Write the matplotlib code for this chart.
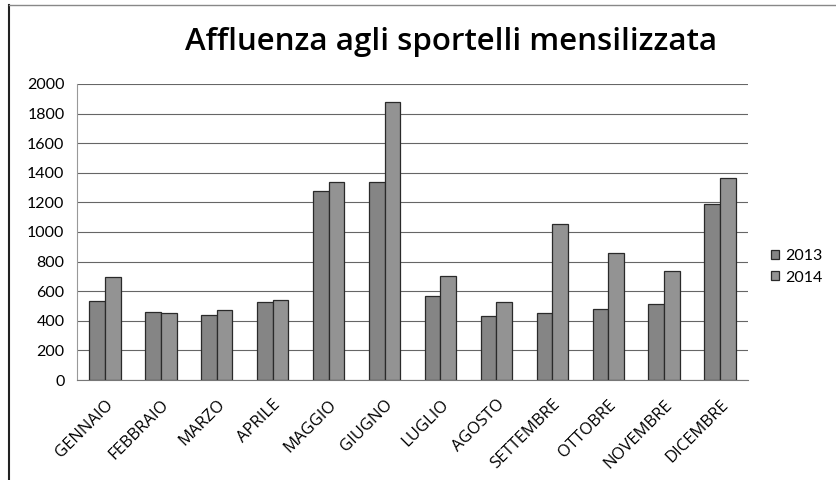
import numpy as np
import matplotlib
matplotlib.use("Agg")
import matplotlib.pyplot as plt
from matplotlib.lines import Line2D

months = ["GENNAIO", "FEBBRAIO", "MARZO", "APRILE", "MAGGIO", "GIUGNO",
          "LUGLIO", "AGOSTO", "SETTEMBRE", "OTTOBRE", "NOVEMBRE", "DICEMBRE"]
v2013 = [536, 462, 437, 525, 1277, 1338, 570, 430, 455, 480, 516, 1189]
v2014 = [698, 450, 475, 540, 1338, 1876, 700, 525, 1052, 856, 736, 1367]
series_labels = ["2013", "2014"]

plt.rcParams["font.family"] = ["Lato", "DejaVu Sans"]

fig = plt.figure(figsize=(8.37, 4.80), dpi=100)
W, H = 837, 480
ax = fig.add_axes([77 / W, 1 - 380 / H, (748 - 77) / W, (380 - 84) / H])

x = np.arange(len(months))
w = 0.28
ax.bar(x - w / 2, v2013, w, color="#858585", edgecolor="#2a2a2a", linewidth=0.9,
       label=series_labels[0], zorder=3)
ax.bar(x + w / 2, v2014, w, color="#939393", edgecolor="#2a2a2a", linewidth=0.9,
       label=series_labels[1], zorder=3)

ax.set_xlim(-0.5, len(months) - 0.5)
ax.set_ylim(0, 2000)
ax.set_yticks(range(0, 2001, 200))
ax.yaxis.grid(True, color="#666666", linewidth=0.8, zorder=0)
ax.set_xticks(x)
ax.set_xticklabels(months, rotation=45, ha="right", rotation_mode="anchor",
                   fontsize=12, family=["Open Sans", "DejaVu Sans"])
ax.tick_params(axis="y", labelsize=11.5, length=0, pad=9)
ax.tick_params(axis="x", length=0, pad=12)
for s in ["top", "right"]:
    ax.spines[s].set_visible(False)
ax.spines["left"].set_color("#999999")
ax.spines["bottom"].set_color("#777777")

fig.text(451 / W, 1 - 42 / H, "Affluenza agli sportelli mensilizzata",
         ha="center", va="center", fontsize=22.5, fontweight="semibold",
         family=["Open Sans", "DejaVu Sans"])

fig.legend(*ax.get_legend_handles_labels(), loc="center left",
           bbox_to_anchor=(768 / W, 1 - 267 / H), frameon=False,
           fontsize=11.5, handlelength=0.5, handleheight=0.5, handletextpad=0.4,
           labelspacing=0.45, borderaxespad=0, borderpad=0.2)

# outer chart border (left and top visible)
fig.add_artist(Line2D([9 / W, 9 / W], [0, 1 - 5 / H], color="#222222", lw=1.5))
fig.add_artist(Line2D([9 / W, 1], [1 - 5 / H, 1 - 5 / H], color="#888888", lw=1.0))

fig.savefig("out.png", dpi=100)
